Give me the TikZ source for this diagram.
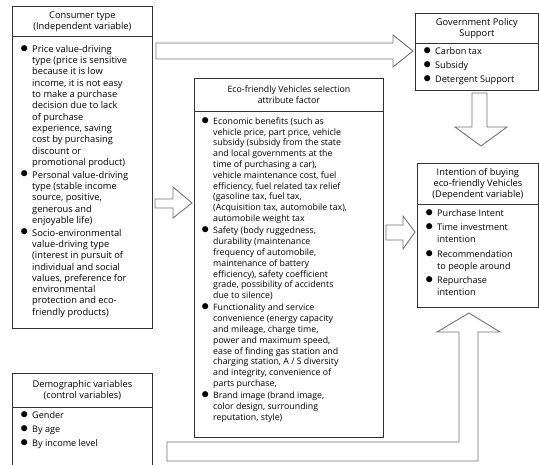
\documentclass[tikz,border=0pt]{standalone}
\usepackage{fontspec}
\setmainfont{Open Sans}
\newcommand\fa{\fontsize{9.3}{11.3}\selectfont}
\newcommand\fb{\fontsize{8.8}{10.8}\selectfont}
\newcommand\fc{\fontsize{9.1}{14}\selectfont}
\newcommand\fd{\fontsize{9.1}{12}\selectfont}
\newcommand\bul{\llap{\raisebox{0.05ex}{\scalebox{1.7}{$\bullet$}}\hspace{4pt}}}
\begin{document}
\begin{tikzpicture}[x=1pt,y=-1pt,
  box/.style={draw=black!80, line width=0.8pt, inner sep=0pt, anchor=north west},
  hdr/.style={box, align=center},
  txt/.style={inner sep=0pt, anchor=north west, align=left},
  blk/.style={draw=black!55, line width=0.9pt, fill=white, line join=miter}]
\useasboundingbox (0,0) rectangle (539,464);
% Consumer type
\node[hdr, font=\fa, minimum width=140pt, minimum height=30pt] (cth) at (12,6) {Consumer type\\(Independent variable)};
\node[box, minimum width=140pt, minimum height=292pt] (ctb) at (12,36) {};
\node[txt, font=\fa] (ctt) at (32,45) {\bul Price value-driving\\type (price is sensitive\\because it is low\\income, it is not easy\\to make a purchase\\decision due to lack\\of purchase\\experience, saving\\cost by purchasing\\discount or\\promotional product)\\[1.5pt]
\bul Personal value-driving\\type (stable income\\source, positive,\\generous and\\enjoyable life)\\[1.5pt]
\bul Socio-environmental\\value-driving type\\(interest in pursuit of\\individual and social\\values, preference for\\environmental\\protection and eco-\\friendly products)};
% Demographic
\node[hdr, font=\fa, minimum width=140pt, minimum height=34pt] (dmh) at (12,373) {Demographic variables\\(control variables)};
\draw[draw=black!80, line width=0.8pt] (dmh.south west) -- ++(0,70) (dmh.south east) -- ++(0,70);
\node[txt, font=\fc] (dmt) at (32,411) {\bul Gender\\\bul By age\\\bul By income level};
% Eco-friendly
\node[hdr, font=\fb, minimum width=189pt, minimum height=33pt] (ech) at (194,78) {Eco-friendly Vehicles selection\\attribute factor};
\node[box, minimum width=189pt, minimum height=326pt] (ecb) at (194,111) {};
\node[txt, font=\fb] (ect) at (213,117) {\bul Economic benefits (such as\\vehicle price, part price, vehicle\\subsidy (subsidy from the state\\and local governments at the\\time of purchasing a car),\\vehicle maintenance cost, fuel\\efficiency, fuel related tax relief\\(gasoline tax, fuel tax,\\(Acquisition tax, automobile tax),\\automobile weight tax\\[1.5pt]
\bul Safety (body ruggedness,\\durability (maintenance\\frequency of automobile,\\maintenance of battery\\efficiency), safety coefficient\\grade, possibility of accidents\\due to silence)\\[1.5pt]
\bul Functionality and service\\convenience (energy capacity\\and mileage, charge time,\\power and maximum speed,\\ease of finding gas station and\\charging station, A / S diversity\\and integrity, convenience of\\parts purchase,\\[1.5pt]
\bul Brand image (brand image,\\color design, surrounding\\reputation, style)};
% Government
\node[hdr, font=\fa, minimum width=123pt, minimum height=30pt] (gvh) at (415,13) {Government Policy\\Support};
\node[box, minimum width=123pt, minimum height=47pt] (gvb) at (415,43) {};
\node[txt, font=\fc] (gvt) at (435,47) {\bul Carbon tax\\\bul Subsidy\\\bul Detergent Support};
% Intention
\node[hdr, font=\fa, minimum width=121pt, minimum height=41pt] (inh) at (417,163) {Intention of buying\\eco-friendly Vehicles\\(Dependent variable)};
\node[box, minimum width=121pt, minimum height=103pt] (inb) at (417,204) {};
\node[txt, font=\fd] (intt) at (437,209) {\bul Purchase Intent\\[2.5pt]\bul Time investment\\intention\\[2.5pt]\bul Recommendation\\to people around\\[2.5pt]\bul Repurchase\\intention};
% Block arrows
\draw[blk] (156,43) -- (393,43) -- (393,35) -- (413,51) -- (393,67) -- (393,59) -- (156,59) -- cycle;
\draw[blk] (155,199) -- (173,199) -- (173,187) -- (192,203) -- (173,218) -- (173,208) -- (155,208) -- cycle;
\draw[blk] (472,93) -- (487,93) -- (487,127) -- (507,127) -- (481,146) -- (455,127) -- (472,127) -- cycle;
\draw[blk] (386,225) -- (403,225) -- (403,216) -- (415,232) -- (403,249) -- (403,240) -- (386,240) -- cycle;
\draw[blk] (167,442) -- (459,442) -- (459,332) -- (437,332) -- (469,313) -- (500,332) -- (478,332) -- (478,461) -- (167,461) -- cycle;
\end{tikzpicture}
\end{document}
